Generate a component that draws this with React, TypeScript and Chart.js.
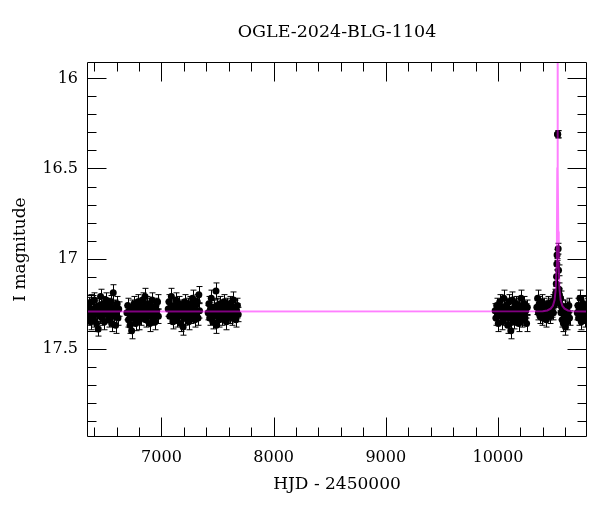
import React, { useEffect, useRef } from 'react';
import { Chart, registerables } from 'chart.js';

Chart.register(...registerables);

// ---- Data: [HJD - 2450000, I magnitude, error] ----
const season1: number[][] = [
  [6338,17.27,0.04],[6344,17.31,0.04],[6350,17.25,0.035],[6357,17.33,0.04],[6363,17.29,0.04],[6369,17.35,0.045],
  [6376,17.24,0.04],[6382,17.30,0.035],[6389,17.28,0.04],[6395,17.34,0.04],[6402,17.23,0.04],[6408,17.31,0.04],
  [6415,17.27,0.035],[6421,17.36,0.045],[6428,17.29,0.04],[6436,17.39,0.04],[6443,17.26,0.04],[6450,17.32,0.04],
  [6457,17.21,0.04],[6464,17.29,0.035],[6471,17.33,0.04],[6478,17.25,0.04],[6485,17.30,0.04],[6492,17.35,0.045],
  [6499,17.27,0.04],[6506,17.23,0.04],[6513,17.31,0.035],[6520,17.28,0.04],[6528,17.34,0.04],[6535,17.26,0.04],
  [6542,17.30,0.04],[6549,17.24,0.035],[6556,17.36,0.045],[6563,17.29,0.04],[6570,17.19,0.045],[6577,17.32,0.04],
  [6584,17.27,0.04],[6591,17.37,0.045],[6598,17.30,0.04],[6605,17.25,0.04],[6612,17.33,0.04],[6619,17.28,0.04],
];
const season2: number[][] = [
  [6692,17.30,0.04],[6699,17.26,0.04],[6706,17.34,0.04],[6713,17.29,0.035],[6720,17.37,0.045],[6727,17.31,0.04],
  [6734,17.40,0.045],[6741,17.27,0.04],[6748,17.33,0.04],[6755,17.25,0.04],[6762,17.30,0.035],[6769,17.36,0.04],
  [6776,17.28,0.04],[6783,17.32,0.04],[6790,17.24,0.04],[6797,17.35,0.045],[6804,17.29,0.04],[6811,17.26,0.04],
  [6818,17.33,0.04],[6825,17.30,0.035],[6832,17.23,0.04],[6839,17.31,0.04],[6846,17.27,0.04],[6853,17.21,0.045],
  [6860,17.34,0.04],[6867,17.29,0.04],[6874,17.25,0.04],[6881,17.32,0.04],[6888,17.28,0.035],[6895,17.36,0.045],
  [6902,17.26,0.04],[6909,17.30,0.04],[6916,17.23,0.04],[6923,17.33,0.04],[6930,17.27,0.04],[6937,17.31,0.04],
  [6944,17.35,0.045],[6951,17.26,0.04],[6958,17.29,0.04],[6965,17.24,0.04],[6972,17.32,0.04],
];
const season3: number[][] = [
  [7060,17.28,0.04],[7067,17.24,0.04],[7074,17.32,0.04],[7081,17.27,0.035],[7088,17.21,0.045],[7095,17.30,0.04],
  [7102,17.35,0.04],[7109,17.26,0.04],[7116,17.31,0.04],[7123,17.29,0.035],[7130,17.23,0.04],[7137,17.34,0.04],
  [7144,17.28,0.04],[7151,17.32,0.04],[7158,17.25,0.04],[7165,17.30,0.035],[7172,17.36,0.045],[7179,17.27,0.04],
  [7186,17.31,0.04],[7193,17.38,0.045],[7200,17.29,0.04],[7207,17.24,0.04],[7214,17.33,0.04],[7221,17.28,0.035],
  [7228,17.30,0.04],[7235,17.26,0.04],[7242,17.35,0.045],[7249,17.29,0.04],[7256,17.25,0.04],[7263,17.32,0.04],
  [7270,17.27,0.04],[7277,17.22,0.045],[7284,17.31,0.04],[7291,17.28,0.04],[7298,17.34,0.04],[7305,17.26,0.04],
  [7312,17.30,0.035],[7319,17.24,0.04],[7326,17.33,0.04],[7333,17.20,0.045],[7339,17.29,0.04],
];
const season4: number[][] = [
  [7416,17.30,0.04],[7423,17.25,0.04],[7430,17.33,0.04],[7437,17.28,0.035],[7444,17.22,0.045],[7451,17.31,0.04],
  [7458,17.35,0.04],[7465,17.27,0.04],[7472,17.32,0.04],[7479,17.29,0.035],[7486,17.18,0.045],[7489,17.37,0.045],
  [7495,17.26,0.04],[7502,17.31,0.04],[7509,17.28,0.04],[7516,17.34,0.04],[7523,17.25,0.04],[7530,17.30,0.035],
  [7537,17.27,0.04],[7544,17.33,0.04],[7551,17.29,0.04],[7558,17.24,0.04],[7565,17.31,0.04],[7572,17.28,0.035],
  [7579,17.35,0.045],[7586,17.26,0.04],[7593,17.30,0.04],[7600,17.27,0.04],[7607,17.32,0.04],[7614,17.25,0.04],
  [7621,17.29,0.035],[7628,17.33,0.04],[7635,17.28,0.04],[7642,17.23,0.045],[7649,17.31,0.04],[7656,17.27,0.04],
  [7663,17.34,0.04],[7670,17.29,0.04],[7677,17.26,0.04],[7684,17.31,0.04],
];
const season5: number[][] = [
  [9975,17.29,0.04],[9982,17.33,0.04],[9989,17.26,0.04],[9996,17.31,0.035],[10003,17.36,0.045],[10010,17.28,0.04],
  [10017,17.24,0.04],[10024,17.32,0.04],[10031,17.27,0.04],[10038,17.35,0.045],[10045,17.30,0.035],[10052,17.22,0.045],
  [10059,17.33,0.04],[10066,17.28,0.04],[10073,17.26,0.04],[10080,17.31,0.04],[10087,17.37,0.045],[10094,17.29,0.04],
  [10101,17.24,0.04],[10108,17.33,0.04],[10115,17.40,0.045],[10122,17.28,0.04],[10129,17.23,0.045],[10136,17.31,0.04],
  [10143,17.35,0.04],[10150,17.27,0.04],[10157,17.30,0.035],[10164,17.25,0.04],[10171,17.33,0.04],[10178,17.29,0.04],
  [10185,17.36,0.045],[10192,17.26,0.04],[10199,17.31,0.04],[10206,17.22,0.045],[10213,17.34,0.04],[10220,17.28,0.04],
  [10227,17.30,0.035],[10234,17.25,0.04],[10241,17.33,0.04],[10248,17.29,0.04],[10255,17.36,0.045],[10262,17.27,0.04],
];
const season6: number[][] = [
  [10347,17.27,0.04],[10354,17.22,0.045],[10361,17.30,0.04],[10368,17.25,0.04],[10375,17.32,0.04],[10382,17.28,0.035],
  [10389,17.24,0.04],[10396,17.33,0.04],[10403,17.29,0.04],[10410,17.26,0.04],[10417,17.31,0.04],[10424,17.27,0.035],
  [10431,17.34,0.04],[10438,17.28,0.04],[10445,17.25,0.04],[10452,17.30,0.04],[10459,17.27,0.04],[10466,17.32,0.04],
  [10473,17.26,0.04],[10480,17.29,0.035],[10487,17.24,0.04],[10494,17.30,0.04],[10500,17.26,0.04],[10506,17.23,0.04],
  [10511,17.21,0.04],[10516,17.19,0.035],[10520,17.14,0.035],[10523,17.10,0.035],[10525,17.03,0.03],[10527,16.98,0.03],
  [10531,16.31,0.02],[10533,16.31,0.02],[10537,16.945,0.03],[10540,17.065,0.03],[10544,17.17,0.035],[10548,17.20,0.035],
  [10553,17.25,0.04],[10558,17.22,0.04],[10563,17.30,0.04],[10568,17.27,0.04],[10573,17.34,0.04],[10578,17.29,0.04],
  [10584,17.36,0.045],[10590,17.31,0.04],[10596,17.27,0.04],[10602,17.38,0.045],[10608,17.32,0.04],[10614,17.28,0.04],
  [10620,17.35,0.045],[10626,17.30,0.04],[10632,17.26,0.04],[10638,17.33,0.04],
];
const season7: number[][] = [
  [10707,17.30,0.04],[10713,17.26,0.04],[10719,17.33,0.04],[10725,17.28,0.035],[10731,17.22,0.045],[10737,17.31,0.04],
  [10743,17.35,0.045],[10749,17.27,0.04],[10755,17.30,0.04],[10761,17.25,0.04],[10767,17.32,0.04],[10773,17.28,0.035],
  [10779,17.34,0.04],[10785,17.29,0.04],[10791,17.26,0.04],
];

// Model light curve
const modelHjd: number[] = [6336, 10400, 10440, 10470, 10490, 10505, 10515, 10522, 10526, 10529, 10531, 10532,
  10533, 10535, 10538, 10542, 10549, 10559, 10574, 10594, 10624, 10664, 10794];
const modelMag: number[] = [17.293, 17.292, 17.288, 17.278, 17.262, 17.23, 17.17, 17.05, 16.85, 16.5, 16.0, 15.5,
  16.0, 16.5, 16.85, 17.05, 17.17, 17.23, 17.262, 17.278, 17.288, 17.292, 17.293];

const xMajorTicks = [7000, 8000, 9000, 10000];
const yMajorTicks = [16, 16.5, 17, 17.5];
const xMinorStep = 200;
const yMinorStep = 0.1;
const xRange = [6336, 10794];
const yRange = [15.909, 17.99];

const observations = [...season1, ...season2, ...season3, ...season4, ...season5, ...season6, ...season7];

const FONT = "'DejaVu Serif', serif";

const framePlugin = {
  id: 'frameAndErrors',
  beforeDatasetsDraw(chart: any) {
    const { ctx, chartArea, scales } = chart;
    const x = scales.x, y = scales.y;
    ctx.save();
    ctx.beginPath();
    ctx.rect(chartArea.left, chartArea.top, chartArea.right - chartArea.left, chartArea.bottom - chartArea.top);
    ctx.clip();
    ctx.strokeStyle = '#000';
    ctx.lineWidth = 1;
    ctx.beginPath();
    for (const [t, m, e] of observations) {
      const px = Math.round(x.getPixelForValue(t)) + 0.5;
      const y1 = y.getPixelForValue(m - e);
      const y2 = y.getPixelForValue(m + e);
      ctx.moveTo(px, y1); ctx.lineTo(px, y2);
      ctx.moveTo(px - 3, y1); ctx.lineTo(px + 3, y1);
      ctx.moveTo(px - 3, y2); ctx.lineTo(px + 3, y2);
    }
    ctx.stroke();
    ctx.restore();
  },
  afterDraw(chart: any) {
    const { ctx, chartArea, scales } = chart;
    const x = scales.x, y = scales.y;
    const L = Math.round(chartArea.left) + 0.5;
    const R = Math.round(chartArea.right) - 0.5;
    const T = Math.round(chartArea.top) + 0.5;
    const B = Math.round(chartArea.bottom) - 0.5;
    ctx.save();
    ctx.strokeStyle = '#000';
    ctx.lineWidth = 1;
    ctx.beginPath();
    ctx.rect(L, T, R - L, B - T);
    const xStart = Math.ceil(xRange[0] / xMinorStep) * xMinorStep;
    for (let v = xStart; v <= xRange[1]; v += xMinorStep) {
      const major = xMajorTicks.includes(v);
      const len = major ? 19 : 9;
      const px = Math.round(x.getPixelForValue(v)) + 0.5;
      ctx.moveTo(px, B); ctx.lineTo(px, B - len);
      ctx.moveTo(px, T); ctx.lineTo(px, T + len);
    }
    const yStart = Math.ceil(yRange[0] / yMinorStep - 1e-6);
    for (let k = yStart; k * yMinorStep <= yRange[1] + 1e-9; k++) {
      const v = +(k * yMinorStep).toFixed(2);
      const major = yMajorTicks.some((m) => Math.abs(m - v) < 1e-6);
      const len = major ? 19 : 9;
      const py = Math.round(y.getPixelForValue(v)) + 0.5;
      ctx.moveTo(L, py); ctx.lineTo(L + len, py);
      ctx.moveTo(R, py); ctx.lineTo(R - len, py);
    }
    ctx.stroke();
    ctx.restore();
  },
};

export default function App() {
  const canvasRef = useRef<HTMLCanvasElement | null>(null);

  useEffect(() => {
    const canvas = canvasRef.current;
    if (!canvas) return;
    const chart = new Chart(canvas, {
      type: 'scatter',
      data: {
        datasets: [
          {
            type: 'line',
            label: 'model',
            data: modelHjd.map((t, i) => ({ x: t, y: modelMag[i] })),
            borderColor: 'rgba(255,0,255,0.5)',
            borderWidth: 2,
            pointRadius: 0,
            tension: 0,
            fill: false,
          } as any,
          {
            label: 'OGLE',
            data: observations.map((o) => ({ x: o[0], y: o[1] })),
            backgroundColor: '#000',
            borderColor: '#000',
            borderWidth: 0,
            pointRadius: 3.5,
          },
        ],
      },
      options: {
        animation: false,
        responsive: false,
        layout: { padding: { left: 0, right: 13, top: 0, bottom: 0 } },
        plugins: {
          legend: { display: false },
          tooltip: { enabled: false },
          title: {
            display: true,
            text: 'OGLE-2024-BLG-1104',
            color: '#000',
            font: { family: FONT, size: 17.5, weight: 'normal' },
            padding: { top: 22, bottom: 19 },
            fullSize: false,
          } as any,
        },
        scales: {
          x: {
            type: 'linear',
            min: xRange[0],
            max: xRange[1],
            afterBuildTicks: (s: any) => { s.ticks = xMajorTicks.map((v) => ({ value: v })); },
            afterFit: (s: any) => { s.height = 75; },
            grid: { display: false, drawTicks: false },
            border: { display: false },
            ticks: {
              padding: 11,
              maxRotation: 0,
              autoSkip: false,
              color: '#000',
              font: { family: FONT, size: 16 },
              callback: (v: any) => String(v),
            },
            title: {
              display: true,
              text: 'HJD - 2450000',
              color: '#000',
              font: { family: FONT, size: 17 },
              padding: { top: 17, bottom: 17 },
            },
          },
          y: {
            type: 'linear',
            reverse: true,
            min: yRange[0],
            max: yRange[1],
            afterBuildTicks: (s: any) => { s.ticks = yMajorTicks.map((v) => ({ value: v })); },
            afterFit: (s: any) => { s.width = 87; },
            grid: { display: false, drawTicks: false },
            border: { display: false },
            ticks: {
              padding: 9,
              autoSkip: false,
              color: '#000',
              font: { family: FONT, size: 16 },
              callback: (v: any) => String(v),
            },
            title: {
              display: true,
              text: 'I magnitude',
              color: '#000',
              font: { family: FONT, size: 17 },
              padding: { top: 10, bottom: 10 },
            },
          },
        },
      },
      plugins: [framePlugin],
    });
    return () => chart.destroy();
  }, []);

  return (
    <div style={{ position: 'absolute', left: 0, top: 0, width: 600, height: 512, background: '#fff' }}>
      <canvas ref={canvasRef} width={600} height={512} style={{ display: 'block' }} />
    </div>
  );
}
